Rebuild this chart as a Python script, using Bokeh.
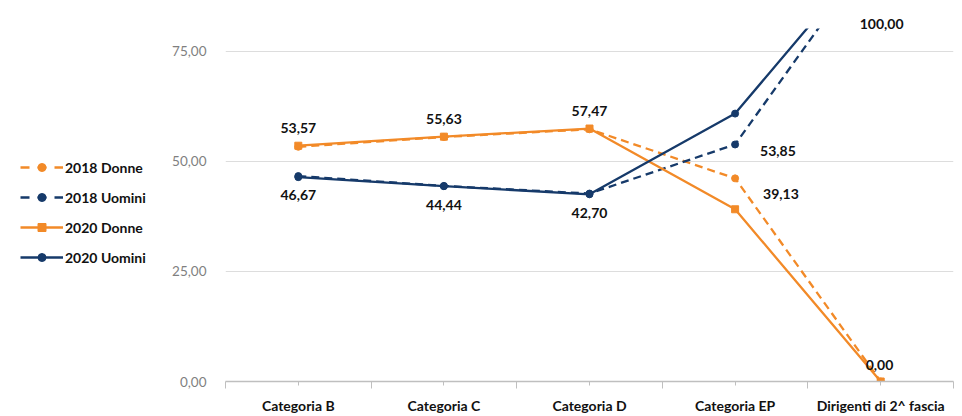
from bokeh.plotting import figure
from bokeh.layouts import row
from bokeh.models import (ColumnDataSource, Range1d, FixedTicker, CustomJSTickFormatter,
                          Legend, LegendItem, LabelSet, Title)
from bokeh.core.properties import value
from bokeh.embed import file_html
from bokeh.resources import INLINE

# Percentages of women / men per staff category
categories = ["Categoria B", "Categoria C", "Categoria D", "Categoria EP", "Dirigenti di 2^ fascia"]
donne_2018 = [53.33, 55.56, 57.30, 46.15, 0.00]
uomini_2018 = [46.67, 44.44, 42.70, 53.85, 100.00]
donne_2020 = [53.57, 55.63, 57.47, 39.13, 0.00]
uomini_2020 = [46.43, 44.37, 42.53, 60.87, 100.00]
y_ticks = [0, 25, 50, 75]

ORANGE = "#F28A28"
NAVY = "#163A6A"
FONT = "Lato"
Y_TOP = 80.2       # upper end of the value axis (taller values run off the top)

LEG_W = 165
xs = [i + 0.5 for i in range(len(categories))]

p = figure(width=962 - LEG_W, height=416, output_backend="svg", toolbar_location=None,
           x_range=Range1d(0, len(categories)), y_range=Range1d(0, Y_TOP),
           min_border_left=60, min_border_right=9, min_border_top=28, min_border_bottom=33)
p.outline_line_color = None
p.background_fill_color = "white"
p.border_fill_color = "white"

# x axis: labels at category centres, boundary ticks as minor ticks
p.xaxis.ticker = FixedTicker(ticks=xs, minor_ticks=list(range(len(categories) + 1)))
p.xaxis.major_label_overrides = {x: c for x, c in zip(xs, categories)}
p.xaxis.axis_line_color = "#BFBFBF"
p.xaxis.axis_line_width = 1.5
p.xaxis.major_tick_line_color = "#BFBFBF"
p.xaxis.minor_tick_line_color = "#BFBFBF"
p.xaxis.major_tick_in = 0
p.xaxis.major_tick_out = 4
p.xaxis.minor_tick_in = 0
p.xaxis.minor_tick_out = 7
p.xaxis.major_label_text_font = FONT
p.xaxis.major_label_text_font_style = "bold"
p.xaxis.major_label_text_font_size = "14px"
p.xaxis.major_label_text_color = "#111111"
p.xaxis.major_label_standoff = 8
p.xgrid.visible = False

# y axis: grey labels, no line
p.yaxis.ticker = FixedTicker(ticks=y_ticks)
p.yaxis.formatter = CustomJSTickFormatter(code="return tick.toFixed(2).replace('.', ',');")
p.yaxis.axis_line_color = None
p.yaxis.major_tick_line_color = None
p.yaxis.minor_tick_line_color = None
p.yaxis.major_label_text_font = FONT
p.yaxis.major_label_text_font_size = "13.5px"
p.yaxis.major_label_text_color = "#7F7F7F"
p.yaxis.major_label_standoff = 13
p.ygrid.grid_line_color = "#DDDDDD"
p.ygrid.grid_line_width = 1.2


def fmt(v):
    return f"{v:.2f}".replace(".", ",")


series = [
    ("2018 Donne", donne_2018, ORANGE, "dashed", "circle"),
    ("2018 Uomini", uomini_2018, NAVY, "dashed", "circle"),
    ("2020 Donne", donne_2020, ORANGE, "solid", "square"),
    ("2020 Uomini", uomini_2020, NAVY, "solid", "circle"),
]

# legend lives in its own narrow figure to the left of the chart;
# its renderers sit outside that figure's visible range
lg = figure(width=LEG_W, height=416, output_backend="svg", toolbar_location=None,
            x_range=Range1d(0, 1), y_range=Range1d(0, 1),
            min_border_left=0, min_border_right=0, min_border_top=0, min_border_bottom=0)
lg.axis.visible = False
lg.grid.visible = False
lg.outline_line_color = None

items = []
for name, vals, color, dash, marker in series:
    src = ColumnDataSource(dict(x=xs, y=vals))
    dash_pat = "8 5" if dash == "dashed" else "solid"
    p.line("x", "y", source=src, line_color=color, line_width=2.3, line_dash=dash_pat)
    p.scatter("x", "y", source=src, marker=marker, size=7, fill_color=color, line_color=color)
    off = ColumnDataSource(dict(x=[-10, -9], y=[-10, -10]))
    ln = lg.line("x", "y", source=off, line_color=color, line_width=2.3,
                 line_dash="9 8" if dash == "dashed" else "solid")
    mk = lg.scatter("x", "y", source=off, marker=marker, size=7, fill_color=color, line_color=color)
    items.append(LegendItem(label=name, renderers=[ln, mk], index=0))

legend = Legend(items=items, location=(20, 114), orientation="vertical",
                glyph_width=43, glyph_height=20, label_height=20, spacing=10,
                label_standoff=2, padding=0, margin=0,
                border_line_color=None, background_fill_alpha=0,
                label_text_font=FONT, label_text_font_style="bold",
                label_text_font_size="14px", label_text_color="#111111")
lg.add_layout(legend, "center")

TXT = dict(text_font=value(FONT), text_font_style="bold", text_font_size="14px",
           text_color="#111111")

# data labels for 2020 Donne and 2018 Uomini; values beyond the axis top
# are written in the strip above the plot area
label_specs = [
    (donne_2020, [("center", "bottom", 0, 13)] * 3 + [("left", "middle", 28, 15), ("left", "bottom", -15, 12)]),
    (uomini_2018, [("center", "top", 0, -14)] * 3 + [("left", "middle", 25, -7), ("left", "middle", -21, 0)]),
]
frame_w = 962 - LEG_W - 60 - 9
for vals, specs in label_specs:
    for x, v, (align, base, dx, dy) in zip(xs, vals, specs):
        if v > Y_TOP:
            p.add_layout(Title(text=fmt(v), align="left", standoff=0,
                               offset=x / len(categories) * frame_w + dx,
                               text_font=FONT, text_font_style="bold", text_font_size="14px",
                               text_color="#111111"), "above")
            continue
        src = ColumnDataSource(dict(x=[x], y=[v], t=[fmt(v)]))
        p.add_layout(LabelSet(x="x", y="y", text="t", source=src, x_offset=dx, y_offset=dy,
                              text_align=align, text_baseline=base, **TXT))

layout = row(lg, p, spacing=0)
open("out.html", "w").write(file_html(layout, INLINE))
